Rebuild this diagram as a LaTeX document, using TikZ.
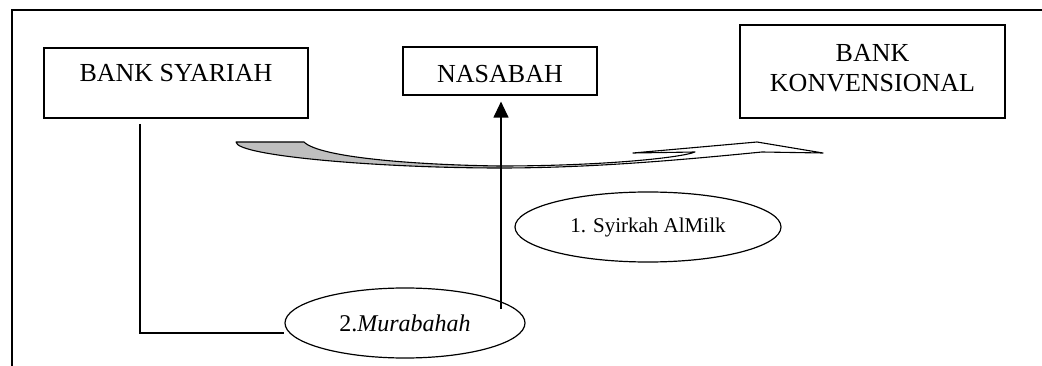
\documentclass[tikz,border=0pt]{standalone}
\usepackage{fontspec}
\setmainfont{Liberation Serif}
\usetikzlibrary{shapes.geometric,arrows.meta}
\begin{document}
\begin{tikzpicture}[x=1pt,y=-1pt,
  box/.style={draw,line width=1.2pt,rectangle,inner sep=0pt,align=center,
              font=\fontsize{26}{30}\selectfont},
  oval/.style={draw,line width=1.2pt,ellipse,inner sep=0pt},
  link/.style={line width=1.2pt},
  flow/.style={line width=1.1pt,line join=round}]
\useasboundingbox (0,0) rectangle (1042,366);

% outer frame (top and left edges)
\draw[link] (12,366) -- (12,10) -- (1042,10);

% parties
\node[box,minimum width=264pt,minimum height=70pt,text height=18pt,text depth=20pt]
  (sy) at (176,83) {BANK SYARIAH};
\node[box,minimum width=194pt,minimum height=48pt,text height=24pt,text depth=0pt]
  (na) at (500,71) {NASABAH};
\node[box,minimum width=265pt,minimum height=93pt,text depth=8pt]
  (bk) at (872.5,71.5) {BANK\\KONVENSIONAL};

% contracts
\node[oval,minimum width=266pt,minimum height=70pt,font=\fontsize{21}{24}\selectfont]
  (sm) at (648,227) {1. Syirkah AlMilk};
\node[oval,minimum width=240pt,minimum height=70pt,font=\fontsize{24}{28}\selectfont]
  (mu) at (405,323) {2.\textit{Murabahah}};

% bank syariah -> murabahah
\coordinate (ltop) at (140,124);
\coordinate (lbot) at (140,333);
\draw[link] (ltop) -- (lbot) -- (lbot -| mu.west);

% murabahah -> nasabah
\coordinate (abot) at (501,309);
\draw[link,-{Triangle[width=15pt,length=16pt]},shorten >=6pt] (abot) -- (abot |- na.south);

% transfer arrow from bank syariah towards bank konvensional
\fill[black!25] (236,142) -- (304,142)
  .. controls (320,158) and (420,165) .. (500,166)
  -- (500,168)
  .. controls (380,168) and (236,156) .. (236,142) -- cycle;
\draw[flow] (236,142) -- (304,142)
  .. controls (320,158) and (420,165) .. (500,166)
  .. controls (600,166) and (680,158) .. (695,152)
  -- (633,153) -- (757,142) -- (823,153) -- (762,152)
  .. controls (700,158) and (600,168) .. (500,168)
  .. controls (380,168) and (236,156) .. (236,142) -- cycle;
\end{tikzpicture}
\end{document}
